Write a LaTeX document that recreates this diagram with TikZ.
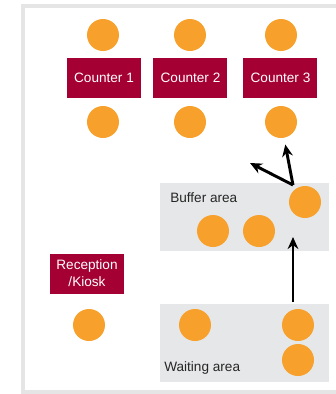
\documentclass[tikz,border=0pt]{standalone}
\usepackage{fontspec}
\setmainfont{Liberation Sans}
\usetikzlibrary{arrows.meta}
\definecolor{deskred}{HTML}{A50034}
\definecolor{seatorange}{HTML}{F7A12C}
\definecolor{zonegray}{HTML}{E6E7E8}
\definecolor{framegray}{HTML}{E5E5E5}

\begin{document}
\begin{tikzpicture}
[x=0.75pt, y=-0.75pt,
 seat/.style={circle, fill=seatorange, minimum size=24pt, inner sep=0pt},
 desk/.style={fill=deskred, text=white, minimum width=55.5pt, minimum height=30pt, inner sep=0pt, align=center, font=\fontsize{10.2}{12.75}\selectfont},
 zone/.style={fill=zonegray, anchor=north west, inner sep=0pt, minimum width=126.75pt},
 areatext/.style={anchor=west, inner sep=0pt, text=black!85, font=\fontsize{10.2}{12}\selectfont},
 flow/.style={line width=2.2pt, -{Stealth[length=9pt,width=8pt]}}]
\useasboundingbox (0,0) rectangle (336,394);
% Define the frame
\draw[framegray, line width=2.5pt] (336,6) -- (23,6) -- (23,392) -- (336,392);

% Define the areas
\node[zone, minimum height=51pt] (buffer) at (160,183) {};
\node[zone, minimum height=58.5pt] (waiting) at (160,304) {};
\node[areatext] (buffertext) at (170,198) {Buffer area};
\node[areatext] (waitingtext) at (164,368) {Waiting area};

% Define the counters
\node[desk] (c1) at (104,78) {Counter 1};
\node[desk] (c2) at (190.5,78) {Counter 2};
\node[desk] (c3) at (280.5,78) {Counter 3};
\node[desk] (kiosk) at (87,273.5) {Reception\\/Kiosk};

% Define the people
\node[seat] (c1t) at (103,35) {};
\node[seat] (c2t) at (190,35) {};
\node[seat] (c3t) at (281,35) {};
\node[seat] (c1b) at (103,122) {};
\node[seat] (c2b) at (190,122) {};
\node[seat] (c3b) at (281,122) {};
\node[seat] (b0) at (305,202) {};
\node[seat] (b1) at (213,231) {};
\node[seat] (b2) at (259,231) {};
\node[seat] (k0) at (89,325) {};
\node[seat] (w0) at (195,325) {};
\node[seat] (w1) at (298,325) {};
\node[seat] (w2) at (298,360) {};

\coordinate (fork) at (293,185);
\coordinate (free) at (250,163);
\coordinate (wtop) at (293,302);
\coordinate (btop) at (293,237);

\draw[flow] (fork) -- (free);
\draw[flow, shorten >=5pt] (fork) -- (c3b);
\draw[flow] (wtop) -- (btop);
\end{tikzpicture}
\end{document}
